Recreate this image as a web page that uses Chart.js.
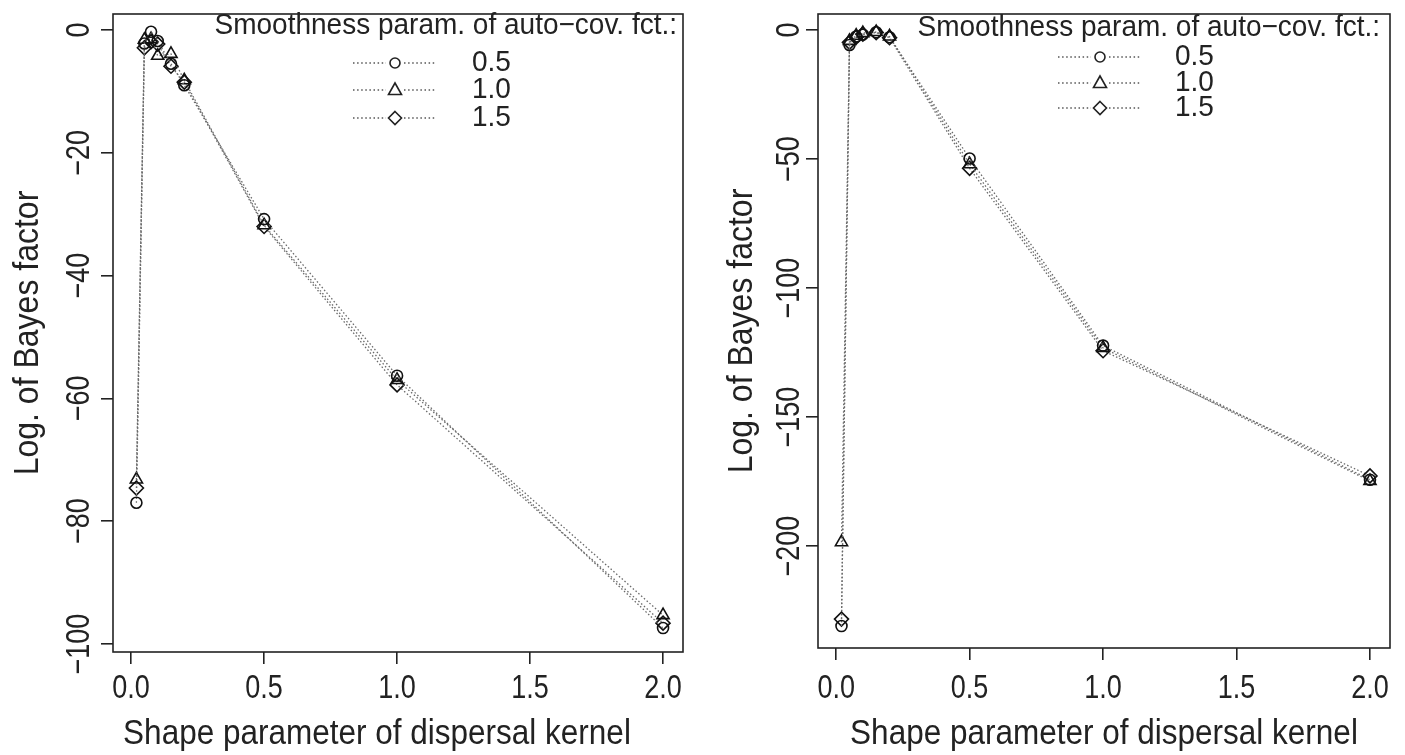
<!DOCTYPE html>
<html>
<head>
<meta charset="utf-8">
<script src="https://cdn.jsdelivr.net/npm/chart.js@4.4.1/dist/chart.umd.min.js"></script>
<style>
  body { margin: 0; background: #fff; width: 1405px; height: 755px; overflow: hidden; }
  .panel { position: absolute; top: 0; height: 755px; }
</style>
</head>
<body>
<div class="panel" style="left:0;width:700px"><canvas id="leftChart" width="700" height="755"></canvas></div>
<div class="panel" style="left:700px;width:705px"><canvas id="rightChart" width="705" height="755"></canvas></div>
<script>
// shape parameter of the dispersal kernel (x values)
const shapeParams = [0.02, 0.05, 0.075, 0.1, 0.15, 0.2, 0.5, 1.0, 2.0];
const smoothLabels = ["0.5", "1.0", "1.5"];
const xTickValues = [0, 0.5, 1.0, 1.5, 2.0];
const xTickLabels = ["0.0", "0.5", "1.0", "1.5", "2.0"];

// left panel: log Bayes factor
const leftNu05 = [-77.0, -2.2, -0.3, -1.8, -5.5, -9.0, -30.8, -56.3, -97.4];
const leftNu10 = [-73.2, -1.6, -1.5, -4.2, -3.9, -8.2, -31.8, -57.0, -95.3];
const leftNu15 = [-74.6, -2.9, -1.9, -2.3, -5.9, -8.5, -32.0, -57.8, -96.6];
const leftYTicks = [0, -20, -40, -60, -80, -100];

// right panel
const rightNu05 = [-231.0, -5.8, -2.5, -1.8, -0.9, -2.8, -49.8, -122.3, -174.3];
const rightNu10 = [-198.5, -4.2, -2.2, -1.2, -0.8, -2.5, -52.0, -123.2, -174.8];
const rightNu15 = [-228.3, -4.8, -2.8, -1.6, -1.0, -3.0, -53.6, -124.3, -172.8];
const rightYTicks = [0, -50, -100, -150, -200];

const FONT = "'Liberation Sans', Arial, Helvetica, sans-serif";
const INK = "#222";
const markerStyles = ["circle", "triangle", "rectRot"];

// text with a slight vertical stretch of the glyphs (the original fonts are tall)
function drawText(ctx, text, x, y, rot, size, stretch) {
  ctx.save();
  ctx.translate(x, y);
  ctx.rotate(rot);
  ctx.scale(1, stretch);
  ctx.font = size + "px " + FONT;
  ctx.fillText(text, 0, 0);
  ctx.restore();
}

function drawMarker(ctx, style, x, y) {
  ctx.beginPath();
  if (style === "circle") {
    ctx.arc(x, y, 5, 0, Math.PI * 2);
  } else if (style === "triangle") {
    ctx.moveTo(x, y - 7);
    ctx.lineTo(x + 6.5, y + 4.5);
    ctx.lineTo(x - 6.5, y + 4.5);
    ctx.closePath();
  } else {
    ctx.moveTo(x, y - 6.5);
    ctx.lineTo(x + 6.5, y);
    ctx.lineTo(x, y + 6.5);
    ctx.lineTo(x - 6.5, y);
    ctx.closePath();
  }
  ctx.stroke();
}

const panelDecor = {
  id: "panelDecor",
  afterDraw(chart, args, opts) {
    const ctx = chart.ctx;
    const area = chart.chartArea;
    const xs = chart.scales.x;
    const ys = chart.scales.y;
    ctx.save();

    // box
    ctx.strokeStyle = INK;
    ctx.lineWidth = 1.6;
    ctx.strokeRect(area.left, area.top, area.right - area.left, area.bottom - area.top);

    ctx.fillStyle = INK;
    ctx.textAlign = "center";
    ctx.textBaseline = "middle";

    // x tick labels
    xTickValues.forEach((v, i) => {
      drawText(ctx, xTickLabels[i], xs.getPixelForValue(v), opts.xLabelY, 0, 27, 1.25);
    });

    // y tick labels, parallel to the axis
    opts.yTicks.forEach((v) => {
      drawText(ctx, String(v).replace("-", "\u2212"), opts.yLabelX, ys.getPixelForValue(v), -Math.PI / 2, 27, 1.25);
    });

    // axis titles
    const titleX = opts.xTitleX != null ? opts.xTitleX : (area.left + area.right) / 2;
    drawText(ctx, "Shape parameter of dispersal kernel", titleX, opts.xTitleY, 0, 31.5, 1.1);
    drawText(ctx, "Log. of Bayes factor", opts.yTitleX, (area.top + area.bottom) / 2, -Math.PI / 2, 32, 1.1);

    // legend
    const lg = opts.legend;
    ctx.textAlign = "right";
    drawText(ctx, "Smoothness param. of auto\u2212cov. fct.:", lg.titleRight, lg.titleY, 0, 28, 1.05);
    ctx.textAlign = "left";
    smoothLabels.forEach((lab, i) => {
      const y = lg.rowY[i];
      ctx.strokeStyle = "#555";
      ctx.lineWidth = 1.3;
      ctx.setLineDash([1.5, 2.6]);
      ctx.beginPath();
      ctx.moveTo(lg.lineLeft, y);
      ctx.lineTo(lg.markerX - 9, y);
      ctx.moveTo(lg.markerX + 9, y);
      ctx.lineTo(lg.lineRight, y);
      ctx.stroke();
      ctx.setLineDash([]);
      ctx.strokeStyle = INK;
      ctx.lineWidth = 1.6;
      drawMarker(ctx, markerStyles[i], lg.markerX, y);
      drawText(ctx, lab, lg.textX, y, 0, 28, 1.05);
    });

    ctx.restore();
  }
};

function makeSeries(values, i) {
  return {
    label: smoothLabels[i],
    data: shapeParams.map((x, k) => ({ x: x, y: values[k] })),
    borderColor: "#6a6a6a",
    borderWidth: 1.3,
    borderDash: [1.5, 2.2],
    pointStyle: markerStyles[i],
    pointRadius: i === 0 ? 5.5 : 7,
    pointBorderColor: "#111",
    pointBackgroundColor: "rgba(0,0,0,0)",
    pointBorderWidth: 1.6,
    fill: false,
    tension: 0,
  };
}

function makeChart(canvasId, series, cfg) {
  return new Chart(document.getElementById(canvasId), {
    type: "line",
    data: { datasets: series.map(makeSeries) },
    options: {
      responsive: false,
      animation: false,
      layout: { padding: { top: cfg.padTop, right: cfg.padRight, left: 0, bottom: 0 } },
      plugins: {
        legend: { display: false },
        tooltip: { enabled: false },
        panelDecor: cfg.decor,
      },
      scales: {
        x: {
          type: "linear",
          min: -0.068,
          max: 2.075,
          afterBuildTicks: (scale) => { scale.ticks = xTickValues.map((v) => ({ value: v })); },
          afterFit: (scale) => { scale.height = cfg.xAxisHeight; },
          ticks: { display: false },
          border: { display: false },
          grid: { drawOnChartArea: false, drawTicks: true, tickLength: 12, color: INK, lineWidth: 1.6 },
        },
        y: {
          type: "linear",
          min: cfg.yMin,
          max: cfg.yMax,
          afterBuildTicks: (scale) => { scale.ticks = cfg.decor.yTicks.map((v) => ({ value: v })); },
          afterFit: (scale) => { scale.width = cfg.yAxisWidth; },
          ticks: { display: false },
          border: { display: false },
          grid: { drawOnChartArea: false, drawTicks: true, tickLength: 12, color: INK, lineWidth: 1.6 },
        },
      },
    },
    plugins: [panelDecor],
  });
}

makeChart("leftChart", [leftNu05, leftNu10, leftNu15], {
  yMin: -101.3, yMax: 2.6,
  padTop: 14, padRight: 17, yAxisWidth: 113, xAxisHeight: 103,
  decor: {
    yTicks: leftYTicks,
    xLabelY: 689, xTitleY: 734, xTitleX: 377, yLabelX: 80, yTitleX: 28,
    legend: { titleRight: 677, titleY: 26, rowY: [63, 90, 118], lineLeft: 353, lineRight: 436, markerX: 395, textX: 472 },
  },
});

makeChart("rightChart", [rightNu05, rightNu10, rightNu15], {
  yMin: -239.5, yMax: 6.2,
  padTop: 14, padRight: 15, yAxisWidth: 118, xAxisHeight: 107,
  decor: {
    yTicks: rightYTicks,
    xLabelY: 689, xTitleY: 734, yLabelX: 90, yTitleX: 42,
    legend: { titleRight: 680, titleY: 28, rowY: [57, 83, 108], lineLeft: 358, lineRight: 440, markerX: 400, textX: 475 },
  },
});
</script>
</body>
</html>
